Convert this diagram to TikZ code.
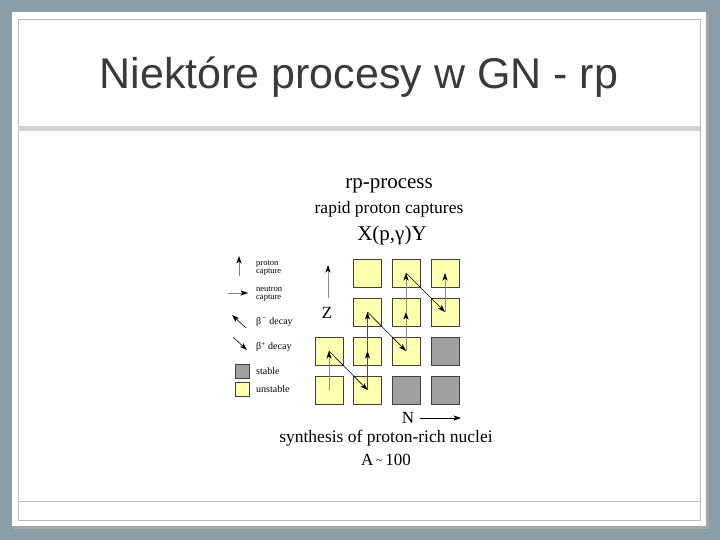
\documentclass[tikz,border=0pt]{standalone}
\usepackage{fontspec}
\setmainfont{Liberation Serif}
\newfontfamily\titlefont{Liberation Sans}
\usetikzlibrary{arrows.meta}
\definecolor{slidebg}{HTML}{8B9DA7}
\definecolor{framegray}{HTML}{BDBDB5}
\definecolor{bargray}{HTML}{D0D3D3}
\definecolor{titlecol}{HTML}{3A3A3A}
\definecolor{unst}{HTML}{FFFFB0}
\definecolor{stab}{HTML}{A0A0A0}
\tikzset{
  sq/.style={draw=black!75, line width=0.6pt, minimum size=28pt, inner sep=0pt},
  yel/.style={sq, fill=unst},
  gry/.style={sq, fill=stab},
  head/.style={-{Stealth[length=7.5pt,width=5pt,inset=2pt,black]}},
  vline/.style={head, draw=black!45, line width=0.6pt},
  dline/.style={head, draw=black, line width=0.6pt},
  lbl/.style={font=\fontsize{8.5}{8.5}\selectfont, anchor=west, inner sep=0pt, align=left},
  lblb/.style={font=\fontsize{10}{10}\selectfont, anchor=west, inner sep=0pt},
}
\begin{document}
\begin{tikzpicture}[x=1pt,y=-1pt]
\useasboundingbox (0,0) rectangle (720,540);
\fill[slidebg] (0,0) rectangle (720,540);
\fill[black!35] (14,15) rectangle (709,529);
\fill[white] (12,12) rectangle (706,526);
\draw[framegray, line width=0.8pt] (18,19) rectangle (700,520);
\fill[bargray] (18,126) rectangle (700,131);
\draw[framegray, line width=0.8pt] (18,501) -- (700,501);
\node[titlecol, font=\titlefont\fontsize{43}{46}\selectfont] (title) at (359,77) {Niektóre procesy w GN - rp};
% headings
\node[font=\fontsize{21}{24}\selectfont] (h1) at (389,186) {rp-process};
\node[font=\fontsize{17.5}{20}\selectfont] (h2) at (389,209) {rapid proton captures};
\node[font=\fontsize{21}{24}\selectfont] (h3) at (392,235) {X(p,γ)Y};
% grid
\node[yel] (s13) at (367.5,273) {};
\node[yel] (s23) at (406,273) {};
\node[yel] (s33) at (445,273) {};
\node[yel] (s12) at (367.5,312) {};
\node[yel] (s22) at (406,312) {};
\node[yel] (s32) at (445,312) {};
\node[yel] (s01) at (329,351) {};
\node[yel] (s11) at (367.5,351) {};
\node[yel] (s21) at (406,351) {};
\node[gry] (s31) at (445,351) {};
\node[yel] (s00) at (329,390) {};
\node[yel] (s10) at (367.5,390) {};
\node[gry] (s20) at (406,390) {};
\node[gry] (s30) at (445,390) {};
% path
\draw[vline] (s00.center) -- (s01.center);
\draw[dline] (s01.center) -- (s10.center);
\draw[vline, draw=black!70] (s10.center) -- (s11.center);
\draw[vline, draw=black!70] (s11.center) -- (s12.center);
\draw[dline] (s12.center) -- (s21.center);
\draw[vline] (s21.center) -- (s22.center);
\draw[vline] (s22.center) -- (s23.center);
\draw[dline] (s23.center) -- (s32.center);
\draw[vline] (s32.center) -- (s33.center);
% axes
\coordinate (zb) at (328,298);
\coordinate (zt) at (328,265);
\draw[vline] (zb) -- (zt);
\node[font=\fontsize{17}{20}\selectfont] (Z) at (327,313) {Z};
\node[font=\fontsize{17}{20}\selectfont] (N) at (408,418) {N};
\coordinate (na) at (420,418);
\coordinate (nb) at (461,418);
\draw[head, line width=0.6pt] (na) -- (nb);
\node[font=\fontsize{17.5}{20}\selectfont] (syn) at (386,438) {synthesis of proton-rich nuclei};
\node[font=\fontsize{17}{20}\selectfont] (A) at (386,460) {A\,\raisebox{1pt}{\fontsize{12}{12}\selectfont\char`~}\,100};
% legend
\coordinate (l1a) at (239,276); \coordinate (l1b) at (239,256);
\draw[head, draw=black!50, line width=0.6pt] (l1a) -- (l1b);
\node[lbl] (t1) at (256,268) {proton\\capture};
\coordinate (l2a) at (228,293); \coordinate (l2b) at (248,293);
\draw[head, draw=black!50, line width=0.6pt] (l2a) -- (l2b);
\node[lbl] (t2) at (256,294) {neutron\\capture};
\coordinate (l3a) at (246,328); \coordinate (l3b) at (232,315);
\draw[dline] (l3a) -- (l3b);
\node[lblb] (t3) at (256,322) {β\textsuperscript{\,−} decay};
\coordinate (l4a) at (233,337); \coordinate (l4b) at (247,350);
\draw[dline] (l4a) -- (l4b);
\node[lblb] (t4) at (256,347) {β\textsuperscript{+} decay};
\node[gry, minimum size=14pt] (l5) at (242,371) {};
\node[lblb] (t5) at (256,371) {stable};
\node[yel, minimum size=14pt] (l6) at (242,389) {};
\node[lblb] (t6) at (256,389) {unstable};
\end{tikzpicture}
\end{document}
